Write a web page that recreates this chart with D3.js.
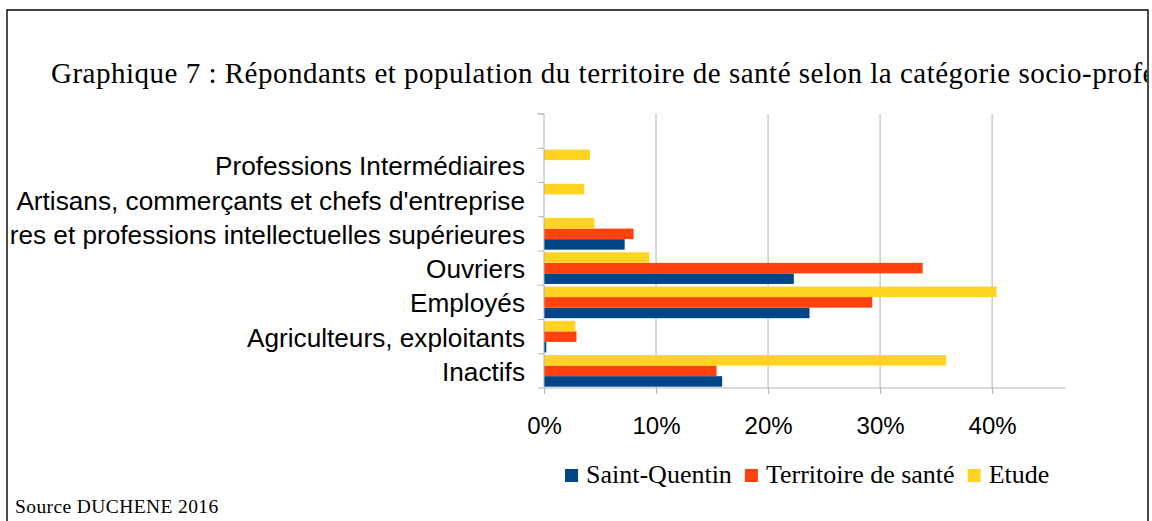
<!DOCTYPE html>
<html>
<head>
<meta charset="utf-8">
<script src="https://cdn.jsdelivr.net/npm/d3@7/dist/d3.min.js"></script>
<style>
	html, body { margin: 0; padding: 0; background: #fff; }
	svg { display: block; }
</style>
</head>
<body>
<svg id="chart" width="1152" height="521"></svg>
<script>

// categories, bottom to top (the top band has no label in the source)
var categories = [
	"Inactifs",
	"Agriculteurs, exploitants",
	"Employés",
	"Ouvriers",
	"Cadres et professions intellectuelles supérieures",
	"Artisans, commerçants et chefs d'entreprise",
	"Professions Intermédiaires",
	""
];

var seriesNames = ["Saint-Quentin", "Territoire de santé", "Etude"];
var seriesColors = ["#004586", "#ff420e", "#ffd320"];

// percentages
var saintQuentin = [15.9, 0.2, 23.7, 22.3, 7.2, 0, 0, 0];
var territoire = [15.4, 2.9, 29.3, 33.8, 8.0, 0, 0, 0];
var etude = [35.9, 2.8, 40.4, 9.4, 4.5, 3.6, 4.1, 0];

var xTicks = [0, 10, 20, 30, 40];

var title = "Graphique 7 : Répondants et population du territoire de santé selon la catégorie socio-professionnelle";
var source = "Source DUCHENE 2016";

var svg = d3.select("#chart");

var plotLeft = 544, plotRight = 1065.5, plotTop = 114, plotBottom = 388;

var x = d3.scaleLinear().domain([0, 46.55]).range([plotLeft, plotRight]);
var y = d3.scaleBand().domain(categories).range([plotBottom, plotTop]).padding(0);

// order inside a band, top to bottom: Etude, Territoire, Saint-Quentin
var inner = d3.scaleBand()
	.domain(["Etude", "Territoire de santé", "Saint-Quentin"])
	.range([0, y.bandwidth()])
	.paddingOuter(0.125)
	.paddingInner(0);

var series = [
	{name: seriesNames[0], values: saintQuentin, color: seriesColors[0]},
	{name: seriesNames[1], values: territoire, color: seriesColors[1]},
	{name: seriesNames[2], values: etude, color: seriesColors[2]}
];

// frame
svg.append("defs").append("clipPath").attr("id", "frameClip")
	.append("rect").attr("x", 10.5).attr("y", 11).attr("width", 1136.5).attr("height", 510);

svg.append("path")
	.attr("d", "M7,521 L7,10 L1148,10 L1148,521")
	.attr("fill", "none")
	.attr("stroke", "#000")
	.attr("stroke-width", 1.4);

var clipped = svg.append("g").attr("clip-path", "url(#frameClip)");

// title
clipped.append("text")
	.attr("x", 51)
	.attr("y", 83)
	.attr("font-family", "'Liberation Serif', 'Times New Roman', serif")
	.attr("font-size", 29)
	.attr("letter-spacing", 0.5)
	.attr("fill", "#000")
	.text(title);

// grid lines
svg.append("g").selectAll("line")
	.data(xTicks.slice(1))
	.enter().append("line")
	.attr("x1", function(d){ return x(d); })
	.attr("x2", function(d){ return x(d); })
	.attr("y1", plotTop)
	.attr("y2", plotBottom)
	.attr("stroke", "#b3b3b3")
	.attr("stroke-width", 1);

// bars
var groups = svg.append("g");
series.forEach(function(s){
	groups.append("g").selectAll("rect")
		.data(s.values)
		.enter().append("rect")
		.attr("x", x(0))
		.attr("y", function(d, i){ return y(categories[i]) + inner(s.name); })
		.attr("width", function(d){ return x(d) - x(0); })
		.attr("height", inner.bandwidth())
		.attr("fill", s.color);
});

// bottom axis
var xAxis = d3.axisBottom(x)
	.tickValues(xTicks)
	.tickSize(6)
	.tickFormat(function(d){ return d + "%"; });

var gx = svg.append("g")
	.attr("transform", "translate(0," + plotBottom + ")")
	.call(xAxis);
gx.select(".domain").remove();
gx.selectAll(".tick line").attr("stroke", "#b3b3b3");
gx.selectAll(".tick text")
	.attr("y", 46)
	.attr("dy", null)
	.attr("fill", "#000")
	.attr("font-family", "'Liberation Sans', Arial, sans-serif")
	.attr("font-size", 24);
gx.append("line")
	.attr("x1", x(0) - 6).attr("x2", plotRight)
	.attr("y1", 0).attr("y2", 0)
	.attr("stroke", "#b3b3b3");

// left axis: labels at band centres, ticks at band edges
var gy = clipped.append("g")
	.attr("transform", "translate(" + plotLeft + ",0)")
	.call(d3.axisLeft(y).tickSize(0).tickPadding(19));
gy.select(".domain").remove();
gy.selectAll(".tick text")
	.attr("fill", "#000")
	.attr("dy", "0.38em")
	.attr("font-family", "'Liberation Sans', Arial, sans-serif")
	.attr("font-size", 26.2);

svg.append("line")
	.attr("x1", x(0)).attr("x2", x(0))
	.attr("y1", plotTop).attr("y2", plotBottom)
	.attr("stroke", "#b3b3b3");

svg.append("g").selectAll("line")
	.data(categories)
	.enter().append("line")
	.attr("x1", x(0) - 6).attr("x2", x(0))
	.attr("y1", function(d){ return y(d); })
	.attr("y2", function(d){ return y(d); })
	.attr("stroke", "#b3b3b3");
svg.append("line")
	.attr("x1", x(0) - 6).attr("x2", x(0))
	.attr("y1", plotTop).attr("y2", plotTop)
	.attr("stroke", "#b3b3b3");

// legend
var legend = svg.append("g").attr("transform", "translate(565,0)");
var lx = 0;
series.forEach(function(s){
	legend.append("rect")
		.attr("x", lx).attr("y", 469)
		.attr("width", 13).attr("height", 13)
		.attr("fill", s.color);
	var t = legend.append("text")
		.attr("x", lx + 21)
		.attr("y", 483)
		.attr("font-family", "'Liberation Serif', 'Times New Roman', serif")
		.attr("font-size", 26)
		.attr("fill", "#000")
		.text(s.name);
	lx += 21 + t.node().getComputedTextLength() + 13;
});

// source
svg.append("text")
	.attr("x", 15)
	.attr("y", 513)
	.attr("font-family", "'Liberation Serif', 'Times New Roman', serif")
	.attr("font-size", 19.5)
	.attr("letter-spacing", 0.4)
	.attr("fill", "#000")
	.text(source);

</script>
</body>
</html>
